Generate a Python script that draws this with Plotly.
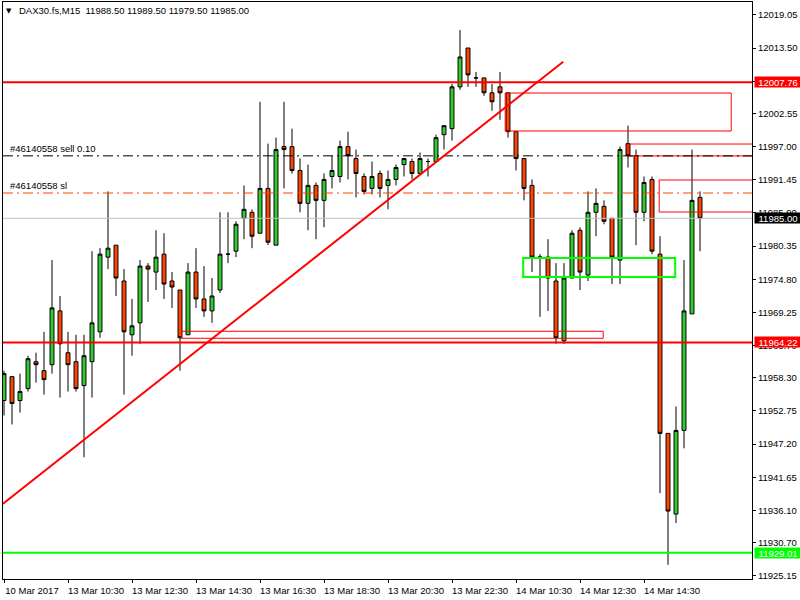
import plotly.graph_objects as go

# ---------------- data ----------------
bar_index = list(range(88))

open_ = [11954.5, 11958.5, 11954.5, 11956.5, 11961.0, 11959.5, 11960.5, 11969.5, 11962.5, 11961.0,
         11957.0, 11961.0, 11966.0, 11978.5, 11980.5, 11974.5, 11965.5, 11967.5, 11977.0, 11976.0,
         11979.0, 11974.5, 11973.0, 11965.5, 11976.0, 11971.5, 11969.5, 11973.0, 11979.0, 11979.5,
         11985.0, 11986.0, 11982.5, 11990.0, 11980.5, 11997.0, 11997.0, 11993.0, 11987.5, 11990.5,
         11988.0, 11992.0, 11992.0, 11997.0, 11995.0, 11992.0, 11990.0, 11992.5, 11990.5, 11991.5,
         11994.0, 11994.5, 11992.5, 11994.5, 11994.5, 11999.0, 12000.0, 12007.0, 12013.5, 12008.5,
         12008.5, 12006.0, 12007.0, 12006.0, 11999.5, 11995.0, 11990.5, 11978.5, 11978.5, 11974.5,
         11964.5, 11975.0, 11983.0, 11975.5, 11986.0, 11987.0, 11985.0, 11978.0, 11997.5, 11995.5,
         11986.0, 11991.5, 11979.0, 11949.0, 11935.5, 11949.5, 11969.0, 11988.5]
high = [11959.5, 11958.5, 11959.0, 11962.0, 11962.5, 11966.0, 11978.0, 11972.0, 11966.0, 11965.5,
        11965.5, 11979.5, 11980.0, 11989.5, 11980.5, 11976.5, 11971.5, 11978.0, 11977.5, 11983.0,
        11982.5, 11976.0, 11973.0, 11977.5, 11980.0, 11977.0, 11975.0, 11986.0, 11986.0, 11984.5,
        11990.5, 11986.5, 12004.5, 11997.5, 11998.5, 12004.5, 12000.0, 11995.0, 11994.0, 11991.0,
        11992.5, 11995.5, 11998.0, 11999.5, 11996.5, 11992.5, 11994.5, 11993.0, 11993.0, 11994.0,
        11995.0, 11995.0, 11996.0, 11995.0, 11999.0, 12000.5, 12007.5, 12016.5, 12013.5, 12009.5,
        12008.5, 12007.5, 12009.5, 12006.0, 11999.5, 11995.0, 11991.5, 11979.0, 11981.5, 11977.5,
        11977.5, 11983.0, 11983.5, 11989.5, 11990.0, 11988.0, 11985.0, 11997.0, 12000.5, 11996.5,
        11992.0, 11992.0, 11982.0, 11949.0, 11953.5, 11978.0, 11996.5, 11989.5]
low = [11952.0, 11950.5, 11952.5, 11956.0, 11957.5, 11955.5, 11959.0, 11955.0, 11956.0, 11956.0,
       11945.0, 11955.0, 11965.0, 11976.5, 11972.0, 11955.5, 11962.0, 11964.0, 11971.0, 11973.0,
       11971.5, 11970.0, 11959.5, 11965.5, 11970.0, 11968.5, 11967.5, 11972.5, 11977.5, 11978.5,
       11981.5, 11980.0, 11982.5, 11980.5, 11980.5, 11990.0, 11992.5, 11986.0, 11983.0, 11981.5,
       11983.5, 11990.0, 11991.0, 11991.5, 11988.5, 11989.0, 11989.0, 11988.5, 11986.5, 11990.5,
       11992.0, 11991.5, 11992.5, 11992.0, 11994.5, 11996.5, 11998.0, 12006.5, 12007.0, 12007.0,
       12005.5, 12003.0, 12001.5, 11998.5, 11993.0, 11988.0, 11976.0, 11968.5, 11969.5, 11964.0,
       11964.0, 11975.0, 11973.0, 11974.5, 11982.0, 11984.0, 11974.0, 11974.0, 11993.5, 11980.5,
       11984.5, 11979.0, 11939.0, 11927.0, 11934.0, 11946.5, 11969.0, 11979.5]
close = [11959.0, 11954.0, 11956.0, 11961.5, 11960.5, 11958.0, 11970.0, 11964.0, 11960.5, 11956.5,
         11962.0, 11967.5, 11979.0, 11980.0, 11975.0, 11966.0, 11967.0, 11977.0, 11976.5, 11978.5,
         11974.0, 11973.5, 11965.0, 11976.0, 11971.5, 11969.5, 11972.0, 11979.0, 11979.0, 11984.0,
         11986.5, 11982.0, 11990.0, 11981.0, 11996.5, 11996.5, 11993.0, 11987.5, 11990.5, 11988.0,
         11991.5, 11993.0, 11997.0, 11995.5, 11992.5, 11989.5, 11992.0, 11990.0, 11991.5, 11993.5,
         11995.0, 11992.5, 11995.0, 11994.5, 11998.5, 12000.5, 12007.0, 12012.0, 12009.0, 12008.5,
         12006.0, 12004.5, 12006.0, 11999.5, 11995.0, 11990.0, 11978.5, 11978.5, 11975.0, 11965.0,
         11975.0, 11982.5, 11976.0, 11986.0, 11987.5, 11984.5, 11978.5, 11996.5, 11995.5, 11986.0,
         11991.0, 11979.5, 11949.0, 11936.0, 11949.5, 11969.5, 11988.0, 11985.0]

x_tick_pos = [0, 8, 16, 24, 32, 40, 48, 56, 64, 72, 80]
x_tick_text = ["10 Mar 2017", "13 Mar 10:30", "13 Mar 12:30", "13 Mar 14:30", "13 Mar 16:30",
               "13 Mar 18:30", "13 Mar 20:30", "13 Mar 22:30", "14 Mar 10:30", "14 Mar 12:30",
               "14 Mar 14:30"]

y_tick_vals = [12019.05, 12013.50, 12007.95, 12002.55, 11997.00, 11991.45, 11985.90, 11980.35,
               11974.80, 11969.25, 11963.70, 11958.30, 11952.75, 11947.20, 11941.65, 11936.10,
               11930.70, 11925.15]
y_tick_text = ["%.2f" % v for v in y_tick_vals]

# horizontal levels with axis price labels
level_prices = [12007.76, 11964.22, 11929.01]
level_colors = ["#FF0000", "#FF0000", "#00FF00"]

# order lines
order_price = 11995.45
order_text = "#46140558 sell 0.10"
sl_price = 11989.23
sl_text = "#46140558 sl"
bid_price = 11985.00

# rectangles (bar index / price)
rect_x0 = [62.65, 78.0, 81.9, 22.2, 64.9]
rect_x1 = [90.9, 100.0, 100.0, 74.9, 83.9]
rect_y0 = [11999.61, 11995.43, 11986.05, 11964.92, 11975.18]
rect_y1 = [12005.97, 11997.43, 11991.41, 11966.09, 11978.36]
rect_colors = ["#FF0000", "#FF0000", "#FF0000", "#FF0000", "#00FF00"]
rect_widths = [1, 1, 1, 1, 2]

# trend line
trend_x = [-0.16, 69.9]
trend_y = [11937.19, 12011.21]

header_text = "DAX30.fs,M15\u00a0\u00a011988.50 11989.50 11979.50 11985.00"

# ---------------- figure ----------------
W, H = 800, 600
ML, MR, MT, MB = 3, 48, 2, 21
PW, PH = W - ML - MR, H - MT - MB
FONT = "Liberation Sans"
FS = 9.5

def px(x):
    return (x - ML) / PW

def py(y):
    return 1 - (y - MT) / PH

fig = go.Figure()
fig.add_trace(go.Candlestick(
    x=bar_index, open=open_, high=high, low=low, close=close,
    increasing=dict(fillcolor="#32CD32", line=dict(color="black", width=1)),
    decreasing=dict(fillcolor="#FF4500", line=dict(color="black", width=1)),
    whiskerwidth=0, showlegend=False, hoverinfo="skip",
))

shapes = []
for x0, x1, y0, y1, c, w in zip(rect_x0, rect_x1, rect_y0, rect_y1, rect_colors, rect_widths):
    shapes.append(dict(type="rect", xref="x", yref="y", x0=x0, x1=x1, y0=y0, y1=y1,
                       line=dict(color=c, width=w), fillcolor="rgba(0,0,0,0)", layer="above"))
shapes.append(dict(type="line", xref="paper", yref="y", x0=0, x1=1, y0=bid_price, y1=bid_price,
                   line=dict(color="#C0C0C0", width=1), layer="above"))
shapes.append(dict(type="line", xref="paper", yref="y", x0=0, x1=1, y0=order_price, y1=order_price,
                   line=dict(color="black", width=1, dash="10px,4px,2px,4px"), layer="above"))
shapes.append(dict(type="line", xref="paper", yref="y", x0=0, x1=1, y0=sl_price, y1=sl_price,
                   line=dict(color="#FF4500", width=1, dash="10px,4px,2px,4px"), layer="above"))
for p, c in zip(level_prices, level_colors):
    shapes.append(dict(type="line", xref="paper", yref="y", x0=0, x1=1, y0=p, y1=p,
                       line=dict(color=c, width=2), layer="above"))
shapes.append(dict(type="line", xref="x", yref="y", x0=trend_x[0], x1=trend_x[1],
                   y0=trend_y[0], y1=trend_y[1], line=dict(color="#FF0000", width=2), layer="above"))

annotations = []
for p, c in zip(level_prices, level_colors):
    annotations.append(dict(xref="paper", yref="y", x=1, y=p, xanchor="left", yanchor="middle",
                            xshift=2, text="%.2f" % p, showarrow=False, bgcolor=c,
                            font=dict(family=FONT, size=FS, color="white"),
                            width=46, height=10, borderpad=0, align="center"))
annotations.append(dict(xref="paper", yref="y", x=1, y=bid_price, xanchor="left", yanchor="middle",
                        xshift=2, text="%.2f" % bid_price, showarrow=False, bgcolor="black",
                        font=dict(family=FONT, size=FS, color="white"),
                        width=46, height=10, borderpad=0, align="center"))
annotations.append(dict(xref="paper", yref="y", x=px(8), y=order_price, xanchor="left",
                        yanchor="bottom", text=order_text, showarrow=False,
                        font=dict(family=FONT, size=FS, color="black")))
annotations.append(dict(xref="paper", yref="y", x=px(8), y=sl_price, xanchor="left",
                        yanchor="bottom", text=sl_text, showarrow=False,
                        font=dict(family=FONT, size=FS, color="black")))
annotations.append(dict(xref="paper", yref="paper", x=px(17), y=py(11), xanchor="left",
                        yanchor="middle", text=header_text, showarrow=False,
                        font=dict(family=FONT, size=FS, color="black")))
annotations.append(dict(xref="paper", yref="paper", x=px(9), y=py(11), xanchor="center",
                        yanchor="middle", text="\u25bc", showarrow=False,
                        font=dict(family="DejaVu Sans", size=7, color="black")))

fig.update_layout(
    width=W, height=H, autosize=False,
    margin=dict(l=ML, r=MR, t=MT, b=MB, pad=0),
    paper_bgcolor="white", plot_bgcolor="white",
    font=dict(family=FONT, size=FS, color="black"),
    shapes=shapes, annotations=annotations,
    showlegend=False,
    xaxis=dict(range=[-0.125, 93.5], rangeslider=dict(visible=False),
               tickmode="array", tickvals=x_tick_pos, ticktext=x_tick_text,
               ticks="outside", ticklen=3, tickcolor="black", tickwidth=1,
               ticklabelshift=28, showgrid=False, zeroline=False,
               showline=True, linecolor="black", linewidth=1, mirror=True,
               tickfont=dict(family=FONT, size=FS, color="black")),
    yaxis=dict(range=[11924.63, 12021.2], side="right",
               tickmode="array", tickvals=y_tick_vals, ticktext=y_tick_text,
               ticks="outside", ticklen=3, tickcolor="black", tickwidth=1,
               showgrid=False, zeroline=False,
               showline=True, linecolor="black", linewidth=1, mirror=True,
               tickfont=dict(family=FONT, size=FS, color="black")),
)

fig.write_html("out.html", post_script="document.body.style.margin='0px';",
               config={"displayModeBar": False})
